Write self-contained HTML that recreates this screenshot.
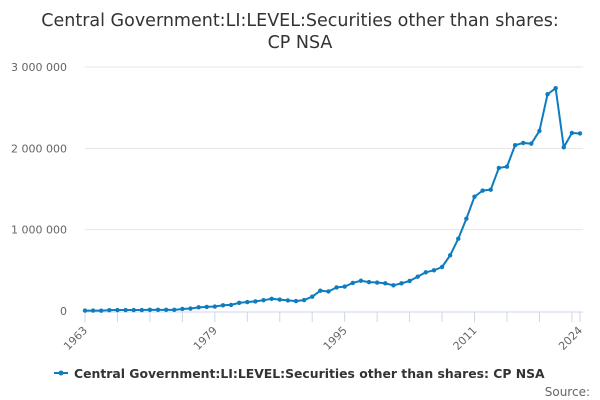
<!DOCTYPE html>
<html><head><meta charset="utf-8"><style>
body{margin:0;background:#fff;font-family:"DejaVu Sans","Liberation Sans",sans-serif;}
svg{display:block}
</style></head><body>
<svg width="600" height="400" id="c">
<text x="300" y="26" text-anchor="middle" font-size="17.5" fill="#333">Central Government:LI:LEVEL:Securities other than shares:</text>
<text x="300" y="48" text-anchor="middle" font-size="17.5" fill="#333">CP NSA</text>
<g id="grid"></g><g id="axes"></g><g id="series"></g>
<g>
<line x1="54" y1="373" x2="68" y2="373" stroke="#0f7cc0" stroke-width="2"/>
<circle cx="61" cy="373" r="2.5" fill="#0f7cc0"/>
<text x="74" y="378" font-size="12.4" font-weight="bold" fill="#333">Central Government:LI:LEVEL:Securities other than shares: CP NSA</text>
</g>
<text x="590" y="396" text-anchor="end" font-size="12" fill="#666">Source:</text>
</svg>
<script>
const startYear=1963;
const values=[5000,5000,4000,10000,12000,12000,12000,12000,15000,14000,14000,14000,25000,30000,45000,50000,55000,70000,75000,100000,110000,118000,133000,150000,140000,130000,122000,135000,176000,250000,240000,290000,300000,345000,372000,355000,350000,340000,316000,340000,369000,422000,476000,500000,541000,685000,889000,1135000,1406000,1480000,1492000,1759000,1775000,2038000,2066000,2058000,2214000,2665000,2739000,2013000,2189000,2183000];
const yTicks=[0,1000000,2000000,3000000];
const yTickLabels=["0","1 000 000","2 000 000","3 000 000"];
const xLabels=[1963,1979,1995,2011,2024];
const NS="http://www.w3.org/2000/svg";
const x0=85,x1=580,y0=311,yTop=67,yMax=3000000;
const endYear=startYear+values.length-1;
const xs=yr=>x0+(yr-startYear)*(x1-x0)/(endYear-startYear);
const ys=v=>y0-(v/yMax)*(y0-yTop);
function mk(t,a,p){const e=document.createElementNS(NS,t);for(const k in a)e.setAttribute(k,a[k]);p.appendChild(e);return e;}
const grid=document.getElementById('grid'),axes=document.getElementById('axes'),ser=document.getElementById('series');
yTicks.forEach((v,i)=>{
 if(v>0){const g=mk('line',{x1:x0,x2:x1+3,y1:ys(v),y2:ys(v),stroke:'#e6e6e6'},grid);
 
 }
 const t=mk('text',{x:67,y:ys(v)+4,'text-anchor':'end','font-size':'11',fill:'#666'},axes);t.textContent=yTickLabels[i];
 
 
});
const ax=mk('line',{x1:x0,x2:x1+3,y1:y0+1,y2:y0+1,stroke:'#ccd6eb'},axes);


for(let yr=startYear;yr<=endYear;yr+=4){const t=mk('line',{x1:xs(yr),x2:xs(yr),y1:y0+1,y2:y0+11,stroke:'#ccd6eb'},axes);
 
 }
const et=mk('line',{x1:x1,x2:x1,y1:y0+1,y2:y0+11,stroke:'#ccd6eb'},axes);


xLabels.forEach(yr=>{const x=xs(yr),y=y0+20;
 const t=mk('text',{x:x+3,y:y,'text-anchor':'end','font-size':'11',fill:'#666',transform:`rotate(-45 ${x+3} ${y})`},axes);t.textContent=yr;
 
 });
const pts=values.map((v,i)=>xs(startYear+i)+','+ys(v)).join(' ');
const pl=mk('polyline',{points:pts,fill:'none',stroke:'#0f7cc0','stroke-width':2,'stroke-linejoin':'round'},ser);


values.forEach((v,i)=>{const c=mk('circle',{cx:xs(startYear+i),cy:ys(v),r:2.2,fill:'#0f7cc0'},ser);
 
 });
</script>
</body></html>
